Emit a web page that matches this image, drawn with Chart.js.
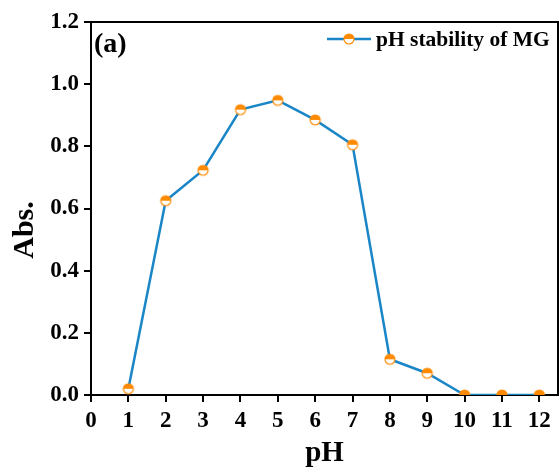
<!DOCTYPE html>
<html>
<head>
<meta charset="utf-8">
<script src="https://cdn.jsdelivr.net/npm/chart.js@4"></script>
<style>
  html, body { margin: 0; padding: 0; background: #fff; }
  #wrap { width: 559px; height: 467px; }
</style>
</head>
<body>
<div id="wrap"><canvas id="phChart" width="559" height="467"></canvas></div>
<script>
const phValues = [1, 2, 3, 4, 5, 6, 7, 8, 9, 10, 11, 12];
const absValues = [0.02, 0.625, 0.723, 0.918, 0.948, 0.885, 0.805, 0.115, 0.07, 0.0, 0.0, 0.0];
const xTicks = [0, 1, 2, 3, 4, 5, 6, 7, 8, 9, 10, 11, 12];
const yTicks = [0, 0.2, 0.4, 0.6, 0.8, 1.0, 1.2];
const seriesName = 'pH stability of MG';
const panelLabel = '(a)';
const yTitle = 'Abs.';

const lineBlue = '#1a86c8';
const markOrange = '#ff8a00';
const serif = '"Liberation Serif", "Times New Roman", serif';

// half-filled circle marker (top orange, bottom white)
function makeMarker(r) {
    const c = document.createElement('canvas');
    const s = r * 2 + 4;
    c.width = s; c.height = s;
    const g = c.getContext('2d');
    const m = s / 2;
    g.beginPath(); g.arc(m, m, r, 0, Math.PI * 2); g.fillStyle = '#fff'; g.fill();
    g.beginPath(); g.arc(m, m, r, Math.PI, 0); g.closePath(); g.fillStyle = markOrange; g.fill();
    g.beginPath(); g.arc(m, m, r, 0, Math.PI * 2); g.lineWidth = 1.2; g.strokeStyle = markOrange; g.stroke();
    return c;
}
const marker = makeMarker(5);

// the layout keeps a few px free on the right; stretch the plot to the edge
const stretchPlugin = {
    id: 'stretch',
    afterLayout(chart) {
        const right = chart.width - 1;
        const x = chart.scales.x;
        chart.chartArea.right = right;
        chart.chartArea.width = right - chart.chartArea.left;
        x.right = right;
        x.width = right - x.left;
        x.configure();
    }
};

const framePlugin = {
    id: 'frame',
    afterDraw(chart) {
        const { ctx, chartArea: a } = chart;
        ctx.save();
        ctx.strokeStyle = '#000';
        ctx.lineWidth = 2;
        ctx.beginPath();
        ctx.moveTo(a.left, a.top);
        ctx.lineTo(a.right, a.top);
        ctx.lineTo(a.right, a.bottom);
        ctx.stroke();

        ctx.fillStyle = '#000';

        // y axis title (sits a bit below the centre in the original)
        ctx.save();
        ctx.translate(25, 230);
        ctx.rotate(-Math.PI / 2);
        ctx.font = 'bold 30px ' + serif;
        ctx.textAlign = 'center';
        ctx.textBaseline = 'middle';
        ctx.fillText(yTitle, 0, 0);
        ctx.restore();

        // panel label
        ctx.font = 'bold 28px ' + serif;
        ctx.textBaseline = 'alphabetic';
        ctx.textAlign = 'left';
        ctx.fillText(panelLabel, a.left + 3, a.top + 30);

        // legend
        const ly = a.top + 17;
        const lx = 327;
        ctx.strokeStyle = lineBlue;
        ctx.lineWidth = 2.5;
        ctx.beginPath();
        ctx.moveTo(lx, ly);
        ctx.lineTo(lx + 44, ly);
        ctx.stroke();
        ctx.drawImage(marker, lx + 22 - marker.width / 2, ly - marker.height / 2);
        ctx.font = 'bold 21.5px ' + serif;
        ctx.textBaseline = 'middle';
        ctx.fillText(seriesName, lx + 49, ly + 1);
        ctx.restore();
    }
};

const ctx = document.getElementById('phChart').getContext('2d');
new Chart(ctx, {
    type: 'line',
    data: {
        datasets: [{
            label: seriesName,
            data: phValues.map((p, i) => ({ x: p, y: absValues[i] })),
            borderColor: lineBlue,
            borderWidth: 2.5,
            pointStyle: marker,
            pointRadius: 5,
            fill: false,
            tension: 0
        }]
    },
    options: {
        responsive: false,
        maintainAspectRatio: false,
        animation: false,
        layout: { padding: { top: 22, right: 1, left: 0, bottom: 0 } },
        plugins: {
            legend: { display: false },
            tooltip: { enabled: false }
        },
        scales: {
            x: {
                type: 'linear',
                min: 0,
                max: 12.5,
                afterBuildTicks: s => { s.ticks = xTicks.map(v => ({ value: v })); },
                afterFit: s => { s.height = 72; s.paddingLeft = 0; s.paddingRight = 0; },
                grid: { drawOnChartArea: false, drawTicks: true, tickLength: 7, color: '#000', lineWidth: 2 },
                border: { display: true, color: '#000', width: 2 },
                ticks: {
                    color: '#000',
                    font: { family: serif, size: 23, weight: 'bold' },
                    padding: 5,
                    maxRotation: 0,
                    autoSkip: false
                },
                title: {
                    display: true,
                    text: 'pH',
                    color: '#000',
                    font: { family: serif, size: 29, weight: 'bold' },
                    padding: { top: 0, bottom: -4 }
                }
            },
            y: {
                min: 0,
                max: 1.2,
                afterBuildTicks: s => { s.ticks = yTicks.map(v => ({ value: v })); },
                afterFit: s => { s.width = 91; s.paddingTop = 0; s.paddingBottom = 0; },
                grid: { drawOnChartArea: false, drawTicks: true, tickLength: 7, color: '#000', lineWidth: 2 },
                border: { display: true, color: '#000', width: 2 },
                ticks: {
                    color: '#000',
                    font: { family: serif, size: 23, weight: 'bold' },
                    padding: 5,
                    callback: v => Number(v).toFixed(1)
                },
                title: { display: false }
            }
        }
    },
    plugins: [stretchPlugin, framePlugin]
});
</script>
</body>
</html>
